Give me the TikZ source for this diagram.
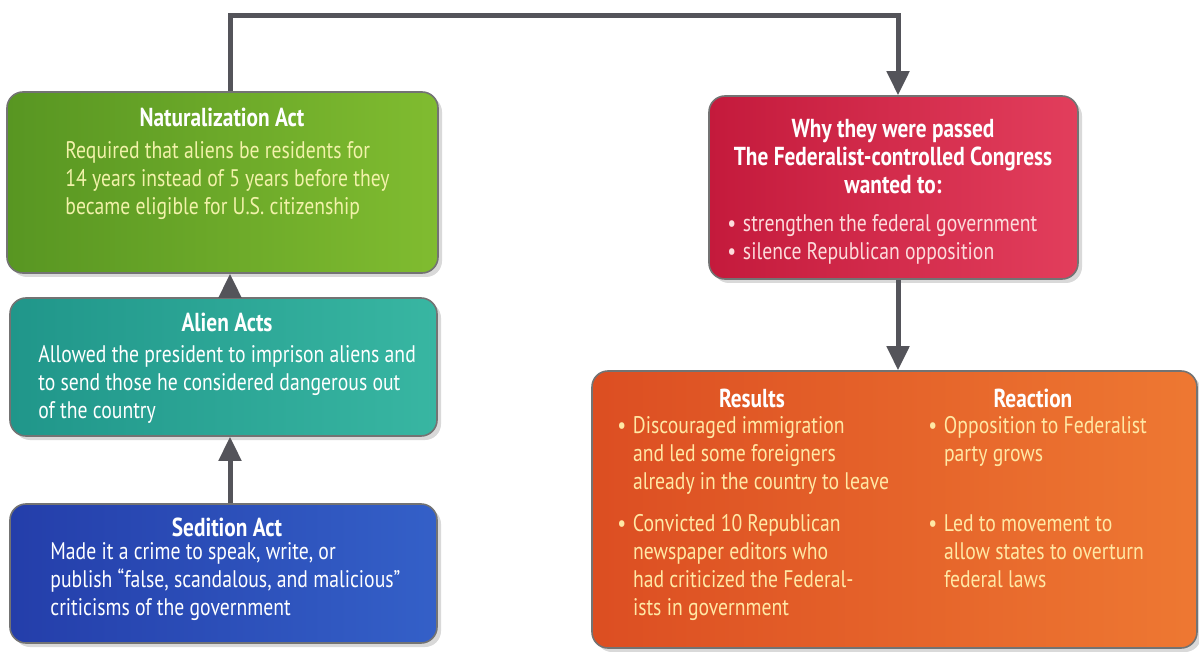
\documentclass[tikz,border=0pt]{standalone}
\usepackage{fontspec}
\setmainfont[FakeStretch=0.82]{PT Sans}
\usetikzlibrary{positioning,fit,calc,arrows.meta,shadows}

\definecolor{natgreen}{RGB}{88,150,34}
\definecolor{natlight}{RGB}{128,188,48}
\definecolor{alienteal}{RGB}{32,150,138}
\definecolor{alienlight}{RGB}{56,182,162}
\definecolor{sedblue}{RGB}{36,62,170}
\definecolor{sedlight}{RGB}{52,96,200}
\definecolor{whyred}{RGB}{196,26,60}
\definecolor{whylight}{RGB}{226,62,92}
\definecolor{resorange}{RGB}{220,78,34}
\definecolor{reslight}{RGB}{238,120,50}
\definecolor{conngray}{RGB}{84,84,90}
\definecolor{natbody}{RGB}{242,242,170}
\definecolor{whybody}{RGB}{252,220,220}
\definecolor{resbody}{RGB}{255,232,165}

\newcommand{\blt}{\makebox[1.3ex][l]{\textbullet}}
\newcommand{\ind}{\hspace*{1.3ex}}

\begin{document}
\begin{tikzpicture}[x=0.5pt,y=-0.5pt,
  box/.style={draw=black!55, line width=0.8pt, rounded corners=8pt, inner sep=0pt,
    drop shadow={opacity=0.3, shadow xshift=2pt, shadow yshift=-2pt}},
  head/.style={font=\bfseries\fontsize{13}{14}\selectfont, text=white, align=center, inner sep=0pt},
  body/.style={font=\fontsize{12}{14}\selectfont, align=left, inner sep=0pt, anchor=north west},
  conn/.style={draw=conngray, line width=2.5pt},
  tip/.style={-{Triangle[width=11pt,length=12pt]}}]
\useasboundingbox (0,0) rectangle (1199,652);

% the five boxes
\node[box, fit={(7,92) (438,273)}, left color=natgreen, right color=natlight] (nat) {};
\node[box, fit={(10,298) (437,436)}, left color=alienteal, right color=alienlight] (alien) {};
\node[box, fit={(10,504) (437,643)}, left color=sedblue, right color=sedlight] (sed) {};
\node[box, fit={(709,96) (1078,279)}, left color=whyred, right color=whylight] (why) {};
\node[box, fit={(592,371) (1197,648)}, left color=resorange, right color=reslight] (res) {};

% texts
\node[head] (natT) at (222,117) {Naturalization Act};
\node[body, text=natbody] (natB) at (65,141) {Required that aliens be residents for\\14 years instead of 5 years before they\\became eligible for U.S. citizenship};

\node[head] (alienT) at (227,322) {Alien Acts};
\node[body, text=white] (alienB) at (38,345) {Allowed the president to imprison aliens and\\to send those he considered dangerous out\\of the country};

\node[head] (sedT) at (227,527) {Sedition Act};
\node[body, text=white] (sedB) at (50,542) {Made it a crime to speak, write, or\\publish “false, scandalous, and malicious”\\criticisms of the government};

\node[head] (whyT) at (893,157) {Why they were passed\\The Federalist-controlled Congress\\wanted to:};
\node[body, text=whybody] (whyB) at (727,214) {\blt strengthen the federal government\\\blt silence Republican opposition};

\node[head] (resT) at (752,398) {Results};
\node[body, text=resbody] (resA) at (617,416) {\blt Discouraged immigration\\\ind and led some foreigners\\\ind already in the country to leave};
\node[body, text=resbody] (resB) at (617,514) {\blt Convicted 10 Republican\\\ind newspaper editors who\\\ind had criticized the Federal-\\\ind ists in government};

\node[head] (reaT) at (1033,398) {Reaction};
\node[body, text=resbody] (reaA) at (928,416) {\blt Opposition to Federalist\\\ind party grows};
\node[body, text=resbody] (reaB) at (928,514) {\blt Led to movement to\\\ind allow states to overturn\\\ind federal laws};

% connectors
\coordinate (lft) at (230,16);
\coordinate (rgt) at (898,16);
\draw[conn, tip] (lft |- nat.north) -- (lft) -- (rgt) -- (rgt |- why.north);
\draw[conn, tip] (lft |- alien.north) -- (lft |- nat.south);
\draw[conn, tip] (lft |- sed.north) -- (lft |- alien.south);
\draw[conn, tip] (rgt |- why.south) -- (rgt |- res.north);
\end{tikzpicture}
\end{document}
